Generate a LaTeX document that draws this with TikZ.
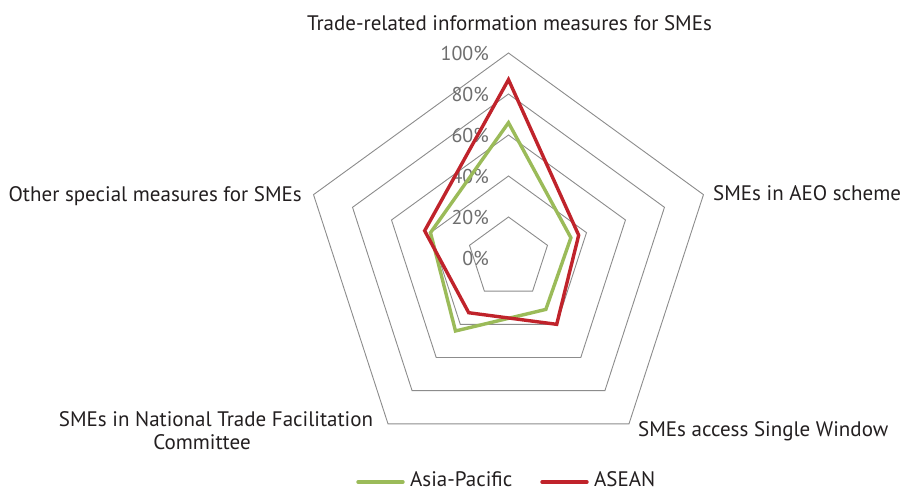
\documentclass[tikz,border=0pt]{standalone}
\usepackage{fontspec}
\setmainfont{PT Sans}
\definecolor{gridgray}{HTML}{8C8C8C}
\definecolor{apgreen}{HTML}{9BBB59}
\definecolor{aseanred}{HTML}{C0232B}
\definecolor{txt}{HTML}{231F20}
\definecolor{pctgray}{HTML}{6E6E6E}
\begin{document}
\begin{tikzpicture}[x=1pt,y=1pt,
  gridline/.style={draw=gridgray,line width=0.9pt,line join=miter},
  series/.style={line width=3.4pt,line join=miter},
  catlabel/.style={font=\fontsize{21}{24}\selectfont,text=txt,inner sep=0pt},
  pctlabel/.style={font=\fontsize{20}{24}\selectfont,text=pctgray,inner sep=0pt,anchor=east},
  legline/.style={line width=3.4pt,line cap=round}]
\useasboundingbox (-508.5,-234) rectangle (391.5,258);
\fill[white] (-508.5,-234) rectangle (391.5,258);
% grid
\foreach \r in {41,82,123,164,205}{
  \draw[gridline] (90:\r) -- (18:\r) -- (-54:\r) -- (-126:\r) -- (162:\r) -- cycle;
}
% percent labels
\foreach \k/\t in {0/0\%,1/20\%,2/40\%,3/60\%,4/80\%,5/100\%}{
  \node[pctlabel] (p\k) at (-19.5,41*\k) {\t};
}
% series Asia-Pacific
\draw[series,apgreen] (90:{2.05*66}) -- (18:{2.05*32}) -- (-54:{2.05*31}) -- (-126:{2.05*44}) -- (162:{2.05*40}) -- cycle;
% series ASEAN
\draw[series,aseanred] (90:{2.05*87}) -- (18:{2.05*36}) -- (-54:{2.05*40}) -- (-126:{2.05*33}) -- (162:{2.05*43}) -- cycle;
% category labels
\node[catlabel,anchor=base] (c1) at (1,227) {Trade-related information measures for SMEs};
\node[catlabel,anchor=base west] (c2) at (204.5,57) {SMEs in AEO scheme};
\node[catlabel,anchor=base west] (c3) at (129.5,-179) {SMEs access Single Window};
\node[catlabel,anchor=base] (c4a) at (-292.5,-169) {SMEs in National Trade Facilitation};
\node[catlabel,anchor=base] (c4b) at (-306.5,-192) {Committee};
\node[catlabel,anchor=base east] (c5) at (-206.5,56) {Other special measures for SMEs};
% legend
\coordinate (lg1a) at (-150.5,-224);
\coordinate (lg1b) at (-105.5,-224);
\coordinate (lg2a) at (33.5,-224);
\coordinate (lg2b) at (78.5,-224);
\draw[legline,apgreen] (lg1a) -- (lg1b);
\draw[legline,aseanred] (lg2a) -- (lg2b);
\node[catlabel,anchor=base west] (l1) at (-98.5,-228.5) {Asia-Pacific};
\node[catlabel,anchor=base west] (l2) at (85.5,-228.5) {ASEAN};
\end{tikzpicture}
\end{document}
